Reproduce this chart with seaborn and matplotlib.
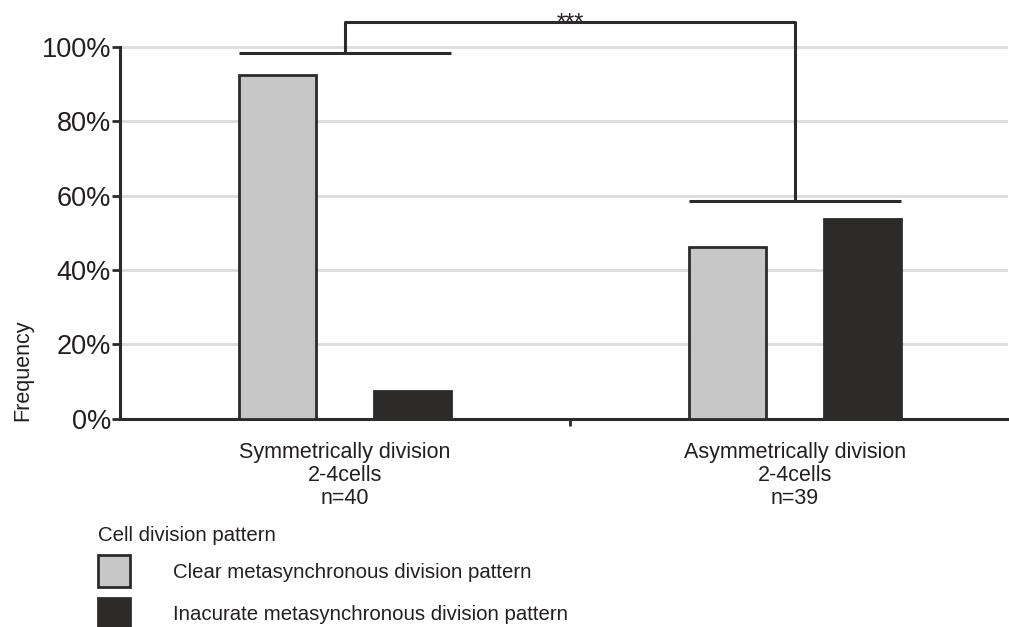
import matplotlib
matplotlib.use("Agg")
import matplotlib.pyplot as plt
import seaborn as sns
import pandas as pd
from matplotlib.ticker import FuncFormatter, FixedLocator

# ---- data ----
categories = ["Symmetrically division\n2-4cells\nn=40",
              "Asymmetrically division\n2-4cells\nn=39"]
patterns = ["Clear metasynchronous division pattern",
            "Inacurate metasynchronous division pattern"]
clear_freq = [92.5, 46.2]
inaccurate_freq = [7.5, 53.8]
y_ticks = [0, 20, 40, 60, 80, 100]
significance = "***"
group_bracket_levels = [98.4, 58.6]
top_bracket_level = 106.7

df = pd.DataFrame({
    "category": categories * 2,
    "pattern": [patterns[0]] * 2 + [patterns[1]] * 2,
    "freq": clear_freq + inaccurate_freq,
})

GREY = "#c6c7c6"
DARK = "#2d2b29"
TXT = "#231f20"

sns.set_theme(style="white")
plt.rcParams["font.family"] = ["Liberation Sans", "DejaVu Sans"]
plt.rcParams["text.color"] = TXT

fig = plt.figure(figsize=(10.09, 6.27), dpi=100)
ax = fig.add_axes([0.119, 0.332, 0.880, 0.668])

sns.barplot(data=df, x="category", y="freq", hue="pattern",
            order=categories, hue_order=patterns,
            palette=[GREY, DARK], width=0.6, gap=0.43,
            edgecolor=DARK, linewidth=2.0, ax=ax, zorder=3)

ax.set_xlim(-0.5, 1.473)
ax.set_ylim(0, 112.6)
ax.yaxis.set_major_locator(FixedLocator(y_ticks))
ax.yaxis.set_major_formatter(FuncFormatter(lambda v, p: f"{int(v)}%"))
ax.grid(axis="y", color="#dcdcdc", linewidth=2.0, zorder=0)
ax.set_axisbelow(True)

for s in ["top", "right"]:
    ax.spines[s].set_visible(False)
for s in ["left", "bottom"]:
    ax.spines[s].set_color(DARK)
    ax.spines[s].set_linewidth(2.2)
ax.spines["left"].set_bounds(0, 100)

ax.tick_params(axis="y", which="major", left=True, length=5.5, width=2.0,
               color=DARK, labelsize=19.5, pad=1.0, labelcolor=TXT)
ax.tick_params(axis="x", which="major", bottom=False, length=0,
               labelsize=15.5, pad=17, labelcolor=TXT)
ax.xaxis.set_minor_locator(FixedLocator([0.5]))
ax.tick_params(axis="x", which="minor", bottom=True, length=5, width=2.0,
               color=DARK)
for lab in ax.get_xticklabels():
    lab.set_linespacing(1.12)

ax.set_xlabel("")
ax.set_ylabel("Frequency", fontsize=15.5, color=TXT)
ax.yaxis.set_label_coords(-0.0975, 0.115)

# significance brackets
half = 0.235
bk = dict(color=DARK, linewidth=2.2, clip_on=False, solid_capstyle="butt", zorder=4)
for i, lvl in enumerate(group_bracket_levels):
    ax.plot([i - half, i + half], [lvl, lvl], **bk)
ax.plot([0, 0, 1, 1], [group_bracket_levels[0], top_bracket_level,
                       top_bracket_level, group_bracket_levels[1]], **bk)
ax.annotate(significance, xy=(0.5, top_bracket_level), xytext=(0, -9),
            textcoords="offset points", ha="center", va="bottom",
            fontsize=17, color=TXT, annotation_clip=False)

# legend
sns.move_legend(ax, "upper left", bbox_to_anchor=(0.097, 0.161),
                bbox_transform=fig.transFigure, frameon=False,
                title="Cell division pattern", fontsize=14.7,
                title_fontsize=14.7, handlelength=1.57, handleheight=2.04,
                labelspacing=0.5, handletextpad=2.1, borderpad=0,
                borderaxespad=0)
leg = ax.get_legend()
leg._legend_box.align = "left"
for h in leg.legend_handles:
    h.set_edgecolor(DARK)
    h.set_linewidth(2.0)

fig.savefig("out.png", dpi=100)
